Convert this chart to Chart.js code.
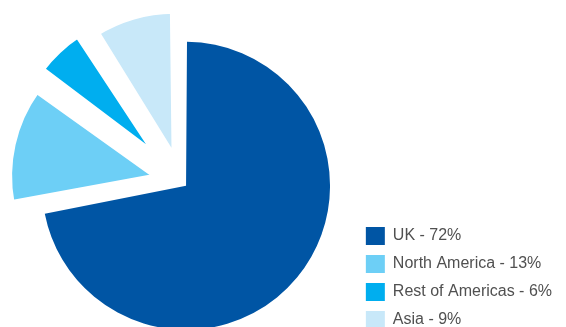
<!DOCTYPE html>
<html>
<head>
<meta charset="utf-8">
<script src="https://cdn.jsdelivr.net/npm/chart.js@4"></script>
<style>
  html, body { margin: 0; padding: 0; background: #ffffff; }
  #wrap { width: 566px; height: 327px; overflow: hidden; }
</style>
</head>
<body>
<div id="wrap"><canvas id="Chart" width="566" height="327"></canvas></div>
<script>
let regions = ['UK', 'North America', 'Rest of Americas', 'Asia'];
let shares = [72, 13, 6, 9];
let colours = ['#0055a4', '#6dcff6', '#00aeef', '#c8e8f9'];

// legend rows read "Region - NN%"
function regionLabels(chart) {
    return regions.map(function (name, i) {
        return {
            text: name + ' - ' + shares[i] + '%',
            fillStyle: colours[i],
            strokeStyle: colours[i],
            lineWidth: 0,
            fontColor: '#505050',
            hidden: false,
            index: i
        };
    });
}

let config = {
    type: 'pie',
    data: {
        labels: regions,
        datasets: [{
            data: shares,
            backgroundColor: colours,
            borderColor: '#ffffff',
            // white edge trims the pulled-out slices a little
            borderWidth: [0, 4.7, 8.7, 6.5],
            borderAlign: 'center',
            borderJoinStyle: 'bevel',
            offset: [24, 108, 106, 94],
            hoverOffset: 0,
            clip: false
        }]
    },
    options: {
        responsive: false,
        animation: false,
        events: [],
        radius: 138,
        layout: {padding: {left: 7, right: 4, top: 37, bottom: -12}},
        plugins: {
            tooltip: {enabled: false},
            legend: {
                position: 'right',
                align: 'end',
                labels: {
                    boxWidth: 19,
                    boxHeight: 18,
                    padding: 10,
                    color: '#505050',
                    font: {family: "'Liberation Sans', Arial, sans-serif", size: 16},
                    generateLabels: regionLabels
                }
            }
        }
    }
};

window.onload = function () {
    let ctx = document.getElementById('Chart').getContext('2d');
    window.myPie = new Chart(ctx, config);
};
</script>
</body>
</html>
